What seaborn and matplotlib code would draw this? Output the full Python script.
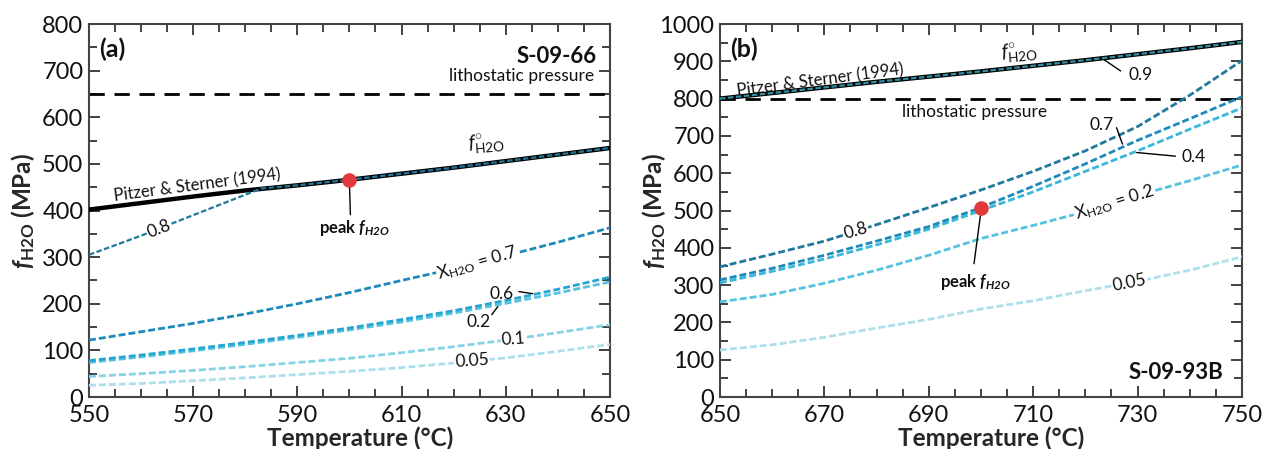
import numpy as np
import pandas as pd
import matplotlib
matplotlib.use("Agg")
import matplotlib.pyplot as plt
import seaborn as sns
from matplotlib.ticker import MultipleLocator, FixedLocator

# ---------------- data: panel (a) S-09-66 ----------------
T_a = [550, 560, 570, 580, 590, 600, 610, 620, 630, 640, 650]
fpure_a = [402, 416, 430, 443, 454, 466, 479, 492, 506, 520, 534]
T_a08 = [550, 560, 570, 583, 590, 600, 610, 620, 630, 640, 650]
x08_a = [305, 346, 390, 447, 454, 466, 479, 492, 506, 520, 534]
x07_a = [122, 140, 158, 178, 200, 224, 250, 275, 303, 332, 363]
x06_a = [78, 90, 103, 117, 132, 148, 166, 185, 207, 231, 257]
x02_a = [74, 86, 99, 113, 128, 144, 161, 180, 201, 223, 247]
x01_a = [44, 50, 57, 65, 74, 83, 95, 108, 122, 138, 155]
x005_a = [25, 29, 35, 41, 48, 55, 63, 73, 84, 98, 113]
litho_a = 650
peak_T_a = 600
xticks_a = [550, 570, 590, 610, 630, 650]

# ---------------- data: panel (b) S-09-93B ----------------
T_b = [650, 660, 670, 680, 690, 700, 710, 720, 730, 740, 750]
fpure_b = [800, 815, 830, 845, 859, 873, 888, 903, 919, 935, 952]
x09_b = [800, 815, 830, 845, 859, 873, 888, 903, 919, 935, 952]
x08_b = [349, 383, 418, 462, 508, 555, 605, 660, 725, 809, 902]
x07_b = [314, 345, 380, 418, 457, 508, 565, 625, 688, 746, 805]
x04_b = [306, 337, 370, 408, 450, 500, 550, 605, 660, 718, 775]
x02_b = [255, 275, 305, 340, 380, 425, 460, 497, 540, 580, 622]
x005_b = [126, 140, 160, 185, 208, 236, 258, 285, 310, 340, 376]
litho_b = 800
peak_T_b = 700
xticks_b = [650, 670, 690, 710, 730, 750]

# ---------------- style ----------------
sns.set_theme(style="ticks")
plt.rcParams['font.family'] = ['Lato', 'DejaVu Sans']
plt.rcParams.update({
    'mathtext.fontset': 'custom',
    'mathtext.rm': 'Lato',
    'mathtext.it': 'Lato:italic',
    'mathtext.bf': 'Lato:bold',
    'mathtext.bfit': 'Lato:bold:italic',
    'text.color': '#111111',
})

COL = {
    0.9: '#2f8fa3',
    0.8: '#20789a',
    0.7: '#1c8bbb',
    0.6: '#25a6d2',
    0.4: '#3ab7da',
    0.2: '#55c3df',
    0.1: '#86d3e6',
    0.05: '#addfed',
}
DASH = (0, (2.5, 1.1))

fig = plt.figure(figsize=(12.62, 4.49), dpi=100)
axa = fig.add_axes([0.0705, 0.1158, 0.4128, 0.8307])
axb = fig.add_axes([0.5705, 0.1158, 0.4136, 0.8307])


def curve(ax, T, v, color, lw=2.0, ls=DASH, z=3):
    sns.lineplot(x=T, y=v, ax=ax, color=color, lw=lw, linestyle=ls,
                 estimator=None, sort=False, zorder=z)


def label(ax, x, y, s, rot=0, size=12.5, bbox=True, **kw):
    ax.text(x, y, s, rotation=rot, rotation_mode='anchor', ha='center',
            va='center', fontsize=size, zorder=6,
            bbox=dict(fc='white', ec='none', pad=0.6) if bbox else None, **kw)


def setup(ax, xlim, ylim, xticks):
    ax.set_xlim(*xlim)
    ax.set_ylim(*ylim)
    ax.xaxis.set_major_locator(FixedLocator(xticks))
    ax.xaxis.set_minor_locator(MultipleLocator(5))
    ax.yaxis.set_major_locator(MultipleLocator(100))
    ax.yaxis.set_minor_locator(MultipleLocator(50))
    ax.tick_params(which='both', direction='in', top=True, right=True,
                   color='#333333', width=1.3, labelsize=17,
                   labelcolor='#111111')
    ax.tick_params(which='major', length=8)
    ax.tick_params(axis='x', which='major', pad=6)
    ax.tick_params(axis='y', which='major', pad=4)
    ax.tick_params(which='minor', length=6)
    for sp in ax.spines.values():
        sp.set_linewidth(1.5)
        sp.set_color('#444444')
    ax.set_xlabel('Temperature (°C)', fontsize=17.5, fontweight='bold')
    ax.set_ylabel(r'$\mathbfit{f}_{\mathbf{H2O}}$ (MPa)', fontsize=17.5,
                  fontweight='bold')
    ax.xaxis.set_label_coords(0.52, -0.08)
    ax.yaxis.set_label_coords(-0.100, 0.5)


# ================= panel (a) =================
ax = axa
setup(ax, (550, 650), (0, 800), xticks_a)
curve(ax, T_a, x005_a, COL[0.05])
curve(ax, T_a, x01_a, COL[0.1])
curve(ax, T_a, x02_a, COL[0.2])
curve(ax, T_a, x06_a, COL[0.6])
curve(ax, T_a, x07_a, COL[0.7])
sns.lineplot(x=T_a, y=fpure_a, ax=ax, color='black', lw=3.2,
             estimator=None, sort=False, zorder=4)
curve(ax, T_a08, x08_a, COL[0.8], lw=1.6, z=5)
ax.axhline(litho_a, color='black', lw=2.0, ls=(0, (5.5, 3.5)), zorder=2)

pk_a = np.interp(peak_T_a, T_a, fpure_a)
ax.scatter([peak_T_a], [pk_a], s=110, color='#e23a3c', zorder=7, lw=0)
ax.annotate('', xy=(peak_T_a, pk_a - 8), xytext=(peak_T_a + 0.2, 385),
            arrowprops=dict(arrowstyle='-', color='black', lw=1.0))
ax.text(peak_T_a + 1, 362, r'peak $\mathbfit{f}_{\mathbfit{H2O}}$', ha='center',
        va='center', fontsize=12, fontweight='bold')

ax.text(552, 745, '(a)', fontsize=18, fontweight='bold', va='center')
ax.text(647.5, 730, 'S-09-66', fontsize=16, fontweight='bold', ha='right',
        va='center')
ax.text(647, 671, 'lithostatic pressure', fontsize=12.5, ha='right',
        va='bottom')
ax.text(571, 436, 'Pitzer & Sterner (1994)', fontsize=12, rotation=7.5,
        rotation_mode='anchor', ha='center', va='bottom')
ax.text(626.5, 518, r'$\mathit{f}^{\circ}_{\rm H2O}$', fontsize=14, rotation=5,
        rotation_mode='anchor', ha='center', va='bottom')

label(ax, 563.5, np.interp(563.5, T_a08, x08_a), '0.8', rot=21)
label(ax, 624.5, np.interp(624.5, T_a, x07_a), r'X$_{\rm H2O}$ = 0.7', rot=16)
label(ax, 629.2, 221, '0.6', bbox=False)
ax.annotate('', xy=(635.7, np.interp(635.7, T_a, x06_a)), xytext=(632.0, 227),
            arrowprops=dict(arrowstyle='-', color='black', lw=1.0))
label(ax, 624.8, 160, '0.2', bbox=False)
ax.annotate('', xy=(628.8, np.interp(628.8, T_a, x02_a)), xytext=(627.0, 172),
            arrowprops=dict(arrowstyle='-', color='black', lw=1.0))
label(ax, 631.5, np.interp(631.5, T_a, x01_a), '0.1', rot=4)
label(ax, 623.5, np.interp(623.5, T_a, x005_a), '0.05', rot=4)

# ================= panel (b) =================
ax = axb
setup(ax, (650, 750), (0, 1000), xticks_b)
curve(ax, T_b, x005_b, COL[0.05])
curve(ax, T_b, x02_b, COL[0.2])
curve(ax, T_b, x04_b, COL[0.4])
curve(ax, T_b, x07_b, COL[0.7])
curve(ax, T_b, x08_b, COL[0.8])
sns.lineplot(x=T_b, y=fpure_b, ax=ax, color='black', lw=3.2,
             estimator=None, sort=False, zorder=4)
curve(ax, T_b, x09_b, COL[0.9], lw=1.6, z=5)
ax.axhline(litho_b, color='black', lw=2.0, ls=(0, (5.5, 3.5)), zorder=2)

pk_b = np.interp(peak_T_b, T_b, x07_b)
ax.scatter([peak_T_b], [pk_b], s=110, color='#e23a3c', zorder=7, lw=0)
ax.annotate('', xy=(peak_T_b, pk_b - 10), xytext=(698.6, 350),
            arrowprops=dict(arrowstyle='-', color='black', lw=1.0))
ax.text(699, 308, r'peak $\mathbfit{f}_{\mathbfit{H2O}}$', ha='center',
        va='center', fontsize=12, fontweight='bold')

ax.text(652, 932, '(b)', fontsize=18, fontweight='bold', va='center')
ax.text(746.5, 67, 'S-09-93B', fontsize=16, fontweight='bold', ha='right',
        va='center')
ax.text(698.7, 764, 'lithostatic pressure', fontsize=12.5, ha='center',
        va='center')
ax.text(669.5, 826, 'Pitzer & Sterner (1994)', fontsize=12, rotation=7.5,
        rotation_mode='anchor', ha='center', va='bottom')
ax.text(707.5, 893, r'$\mathit{f}^{\circ}_{\rm H2O}$', fontsize=14, rotation=5,
        rotation_mode='anchor', ha='center', va='bottom')

label(ax, 730.5, 862, '0.9', bbox=False)
ax.annotate('', xy=(723.2, np.interp(723.2, T_b, x09_b)), xytext=(727.2, 870),
            arrowprops=dict(arrowstyle='-', color='black', lw=1.0))
label(ax, 723.2, 730, '0.7', bbox=False)
ax.annotate('', xy=(727.3, np.interp(727.3, T_b, x07_b)), xytext=(725.8, 729),
            arrowprops=dict(arrowstyle='-', color='black', lw=1.0))
label(ax, 740.8, 643, '0.4', bbox=False)
ax.annotate('', xy=(729.3, np.interp(729.3, T_b, x04_b)), xytext=(737.8, 645),
            arrowprops=dict(arrowstyle='-', color='black', lw=1.0))
label(ax, 676, np.interp(676, T_b, x08_b), '0.8', rot=16)
label(ax, 725.5, np.interp(725.5, T_b, x02_b), r'X$_{\rm H2O}$ = 0.2', rot=17)
label(ax, 728.5, np.interp(728.5, T_b, x005_b), '0.05', rot=11)

fig.savefig('out.png', dpi=100)
